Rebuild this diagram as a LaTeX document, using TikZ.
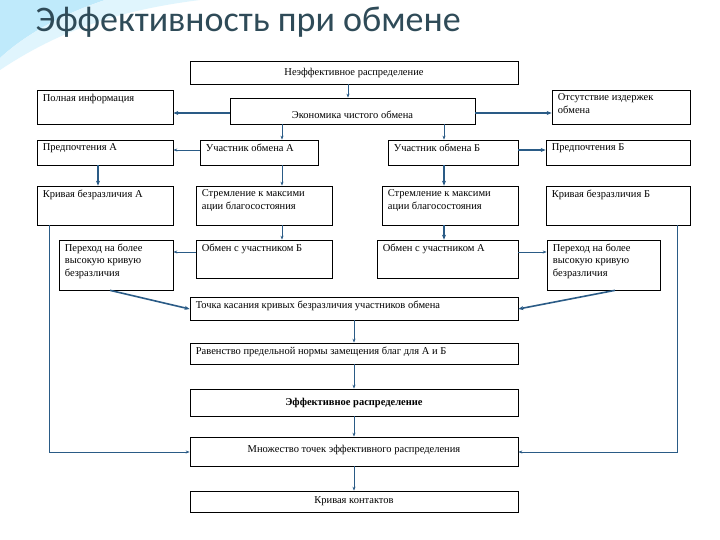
\documentclass[tikz,border=0pt]{standalone}
\usepackage{fontspec}
\setmainfont{Liberation Serif}
\newfontfamily\titlefont{Carlito}
\usetikzlibrary{fit,arrows.meta}
\definecolor{ln}{HTML}{2A5B86}
\definecolor{ttl}{HTML}{2F4B58}
\tikzset{
 bx/.style={draw=black,line width=0.7pt,inner sep=0pt,fill=white},
 txt/.style={font=\fontsize{10.5}{12.5}\selectfont,align=left,inner xsep=6pt,inner ysep=4pt},
 ctx/.style={font=\fontsize{10.5}{12.5}\selectfont,align=center},
 arr/.style={draw=ln,line width=0.8pt,-{Stealth[length=4pt,width=3pt]}},
 thk/.style={draw=ln,line width=1.6pt,-{Stealth[length=5pt,width=4pt]}}
}
\newcommand\bx[6]{\node[bx,fit={(#2,#3)(#4,#5)}] (#1) {};
 \node[txt,anchor=north west] at (#1.north west) {#6};}
\newcommand\cbx[6]{\node[bx,fit={(#2,#3)(#4,#5)}] (#1) {};
 \node[ctx] at (#1.center) {#6};}
\begin{document}
\begin{tikzpicture}[x=1pt,y=-1pt]
\useasboundingbox (0,0) rectangle (720,540);
\fill[white] (0,0) rectangle (720,540);
\fill[cyan!25] (0,0) -- (105,0) .. controls (60,15) and (25,35) .. (0,58) -- cycle;
\fill[cyan!12] (105,0) -- (200,0) .. controls (120,10) and (60,30) .. (0,70) -- (0,58) .. controls (25,35) and (60,15) .. (105,0);
\node[font=\titlefont\fontsize{36}{40}\selectfont,text=ttl,anchor=west] (title) at (32,22) {Эффективность при обмене};

\cbx{neef}{190}{61}{518}{84}{Неэффективное распределение}
\bx{poln}{37}{90}{173}{124}{Полная информация}
\node[bx,fit={(230,98)(475,124)}] (ekon) {};
\node[ctx] at ([yshift=-4pt]ekon.center) {Экономика чистого обмена};
\bx{otsu}{552}{90}{690}{124}{Отсутствие издержек\\обмена}
\bx{predA}{37}{140}{173}{165}{Предпочтения А}
\bx{uchA}{200}{140}{318}{165}{Участник обмена А}
\bx{uchB}{388}{140}{518}{165}{Участник обмена Б}
\bx{predB}{546}{140}{690}{165}{Предпочтения Б}
\bx{krA}{37}{186}{173}{225}{Кривая безразличия А}
\bx{strA}{196}{186}{332}{225}{Стремление к максими\\ации благосостояния}
\bx{strB}{382}{186}{518}{225}{Стремление к максими\\ации благосостояния}
\bx{krB}{546}{186}{690}{225}{Кривая безразличия Б}
\bx{perA}{59}{240}{173}{290}{Переход на более\\высокую кривую\\безразличия}
\bx{obmB}{196}{240}{332}{278}{Обмен с участником Б}
\bx{obmA}{377}{240}{518}{278}{Обмен с участником А}
\bx{perB}{547}{240}{660}{290}{Переход на более\\высокую кривую\\безразличия}
\bx{tochka}{190}{297}{518}{320}{Точка касания кривых безразличия участников обмена}
\bx{rav}{190}{343}{518}{364}{Равенство предельной нормы замещения благ для А и Б}
\cbx{eff}{190}{389}{518}{416}{\textbf{Эффективное распределение}}
\node[bx,fit={(190,437)(518,466)}] (mnoz) {};
\node[ctx,anchor=north] at ([yshift=-5pt]mnoz.north) {Множество точек эффективного распределения};
\cbx{kont}{190}{491}{518}{512}{Кривая контактов}

\draw[arr] (neef.south -| 348,0) -- (ekon.north -| 348,0);
\draw[thk] (ekon.west |- 0,113) -- (poln.east |- 0,113);
\draw[thk] (ekon.east |- 0,113) -- (otsu.west |- 0,113);
\draw[arr] (ekon.south -| 282,0) -- (uchA.north -| 282,0);
\draw[arr] (ekon.south -| 444,0) -- (uchB.north -| 444,0);
\draw[arr] (uchA.west |- 0,150) -- (predA.east |- 0,150);
\draw[thk] (uchB.east |- 0,150) -- (predB.west |- 0,150);
\draw[thk] (predA.south -| 98,0) -- (krA.north -| 98,0);
\draw[arr] (uchA.south -| 282,0) -- (strA.north -| 282,0);
\draw[thk] (uchB.south -| 444,0) -- (strB.north -| 444,0);
\draw[arr] (strA.south -| 282,0) -- (obmB.north -| 282,0);
\draw[thk] (strB.south -| 444,0) -- (obmA.north -| 444,0);
\draw[arr] (obmB.west |- 0,252) -- (perA.east |- 0,252);
\draw[arr] (obmA.east |- 0,252) -- (perB.west |- 0,252);
\draw[thk] (perA.south -| 110,0) -- (tochka.west |- 0,309);
\draw[thk] (perB.south -| 615,0) -- (tochka.east |- 0,309);
\draw[arr] (tochka) -- (rav);
\draw[arr] (rav) -- (eff);
\draw[arr] (eff) -- (mnoz);
\draw[arr] (mnoz) -- (kont);
\draw[arr] (krA.south -| 49,0) |- (mnoz.west |- 0,452);
\draw[arr] (krB.south -| 677,0) |- (mnoz.east |- 0,452);
\end{tikzpicture}
\end{document}
